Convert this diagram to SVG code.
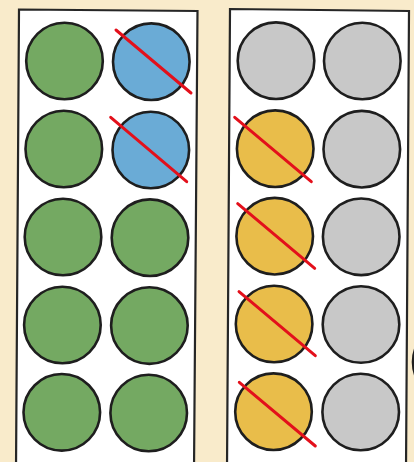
<svg xmlns="http://www.w3.org/2000/svg" width="414" height="462" viewBox="0 0 414 462">
<style>
.panel{fill:#fff;stroke:#262626;stroke-width:2.2}
.c{stroke:#1e1e1e;stroke-width:2.6}
.g{fill:#74a962}
.b{fill:#6aabd6}
.y{fill:#e9bd4a}
.s{fill:#c8c8c8}
.x{stroke:#e3101b;stroke-width:3;stroke-linecap:round;fill:none}
</style>
<rect x="0" y="0" width="414" height="462" fill="#f9ebcb"/>
<g id="panel-left">
<polygon class="panel" points="19,9.5 197.5,11 194,470 16,470"/>
</g>
<g id="panel-right">
<polygon class="panel" points="230,9 409,11 406,470 227,470"/>
</g>
<g id="partial"><circle class="c s" cx="451" cy="362" r="38"/></g>
<g id="left-col1">
<circle class="c g" cx="64.5" cy="61" r="38.3"/>
<circle class="c g" cx="63.8" cy="149" r="38.3"/>
<circle class="c g" cx="63" cy="237" r="38.3"/>
<circle class="c g" cx="62.4" cy="325" r="38.3"/>
<circle class="c g" cx="61.8" cy="412.3" r="38.3"/>
</g>
<g id="left-col2">
<circle class="c b" cx="151.3" cy="61.7" r="38.3"/>
<circle class="c b" cx="150.8" cy="150" r="38.3"/>
<circle class="c g" cx="150" cy="237.7" r="38.3"/>
<circle class="c g" cx="149.4" cy="325.6" r="38.3"/>
<circle class="c g" cx="148.7" cy="413" r="38.3"/>
</g>
<g id="right-col1">
<circle class="c s" cx="276" cy="60.7" r="38.3"/>
<circle class="c y" cx="275.2" cy="148.7" r="38.3"/>
<circle class="c y" cx="274.7" cy="236.2" r="38.3"/>
<circle class="c y" cx="274.1" cy="324" r="38.3"/>
<circle class="c y" cx="273.5" cy="411.7" r="38.3"/>
</g>
<g id="right-col2">
<circle class="c s" cx="362.3" cy="61" r="38.3"/>
<circle class="c s" cx="361.8" cy="149.2" r="38.3"/>
<circle class="c s" cx="361.2" cy="236.8" r="38.3"/>
<circle class="c s" cx="361" cy="324.5" r="38.3"/>
<circle class="c s" cx="360.7" cy="412" r="38.3"/>
</g>
<g id="strikes">
<line class="x" x1="116" y1="30" x2="191" y2="93"/>
<line class="x" x1="110.7" y1="117.3" x2="186.7" y2="181.7"/>
<line class="x" x1="234.7" y1="117.3" x2="311.3" y2="181.7"/>
<line class="x" x1="237.7" y1="203.7" x2="314.7" y2="268.3"/>
<line class="x" x1="239" y1="291.7" x2="315.3" y2="355.7"/>
<line class="x" x1="239.3" y1="382.3" x2="315.3" y2="446"/>
</g>
</svg>
